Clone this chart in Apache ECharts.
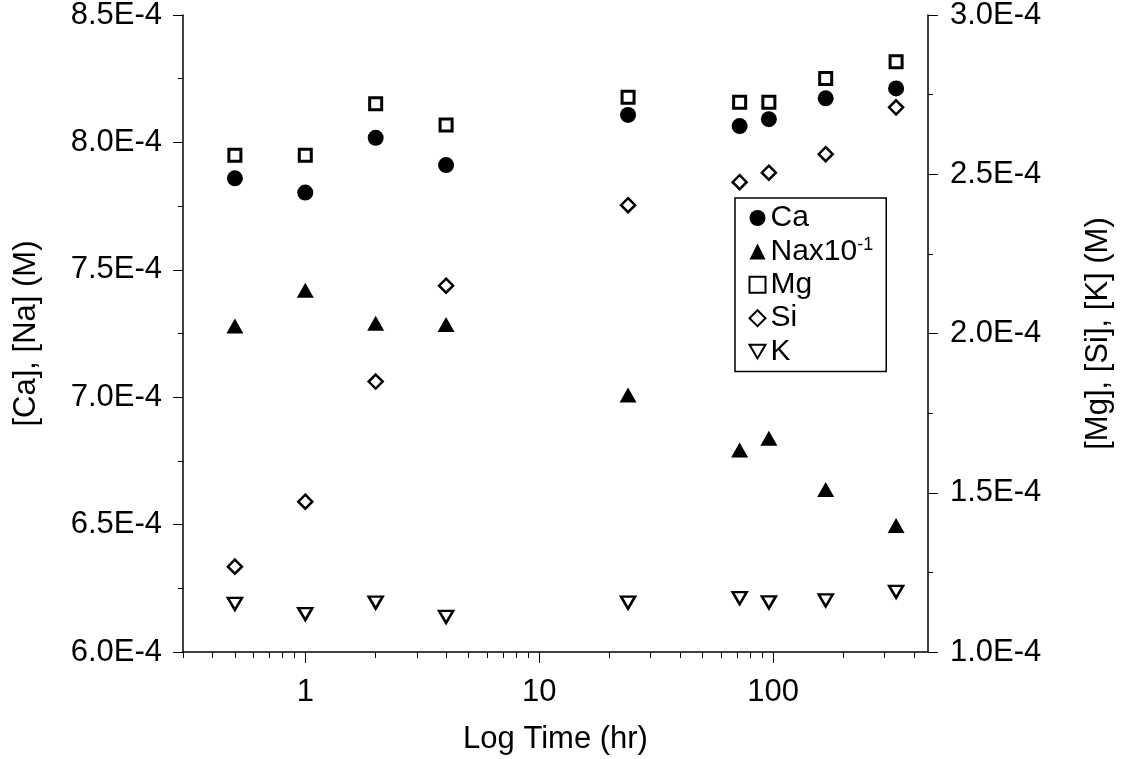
<!DOCTYPE html>
<html>
<head>
<meta charset="utf-8">
<script src="https://cdn.jsdelivr.net/npm/echarts@6/dist/echarts.min.js"></script>
<style>
html,body{margin:0;padding:0;background:#fff;}
#chart{width:1123px;height:759px;}
</style>
</head>
<body>
<div id="chart"></div>
<script>
// ---- data ----
const times = [0.5, 1, 2, 4, 24, 72, 96, 168, 336];            // hr
const caValues = [7.859e-4, 7.803e-4, 8.018e-4, 7.911e-4, 8.108e-4, 8.064e-4, 8.091e-4, 8.173e-4, 8.212e-4];
const naValues = [7.279e-4, 7.420e-4, 7.290e-4, 7.285e-4, 7.009e-4, 6.793e-4, 6.839e-4, 6.638e-4, 6.496e-4]; // Na x 10^-1
const mgValues = [2.560e-4, 2.560e-4, 2.721e-4, 2.655e-4, 2.742e-4, 2.726e-4, 2.726e-4, 2.801e-4, 2.853e-4];
const siValues = [1.268e-4, 1.472e-4, 1.849e-4, 2.150e-4, 2.403e-4, 2.475e-4, 2.505e-4, 2.563e-4, 2.710e-4];
const kValues  = [1.151e-4, 1.119e-4, 1.155e-4, 1.110e-4, 1.155e-4, 1.169e-4, 1.156e-4, 1.162e-4, 1.189e-4];
const seriesNames = ['Ca', 'Na', 'Mg', 'Si', 'K'];
const xMajorTicks = [1, 10, 100];
const xMinorTicks = [0.3,0.4,0.5,0.6,0.7,0.8,0.9,2,3,4,5,6,7,8,9,20,30,40,50,60,70,80,90,200,300,400];
const xTitle = 'Log Time (hr)';
const yLeftTitle = '[Ca], [Na] (M)';
const yRightTitle = '[Mg], [Si], [K] (M)';

const FONT = 'Liberation Sans, Arial, Helvetica, sans-serif';
const pair = v => times.map((t, i) => [t, v[i]]);
const fmtE = v => (v * 1e4).toFixed(1) + 'E-4';

const chart = echarts.init(document.getElementById('chart'), null, {renderer: 'canvas'});
const axisLine = {show: true, lineStyle: {color: '#000', width: 1.5}};
const tickStyle = {color: '#000', width: 1};
const invTriangle = 'path://M0,0 L20,0 L10,17 Z';

const option = {
  backgroundColor: '#fff',
  animation: false,
  grid: {left: 183, right: 195, top: 15, bottom: 107, containLabel: false, outerBoundsMode: 'none'},
  xAxis: [
    {
      type: 'log', logBase: 10, min: 0.3, max: 460, position: 'bottom',
      name: xTitle, nameLocation: 'middle', nameGap: 72,
      nameTextStyle: {fontSize: 31, fontFamily: FONT, color: '#000'},
      axisLine: axisLine,
      axisTick: {show: true, length: 11, lineStyle: tickStyle, customValues: xMajorTicks},
      axisLabel: {fontSize: 31, fontFamily: FONT, color: '#000', margin: 25, customValues: xMajorTicks,
                  formatter: v => String(v)},
      splitLine: {show: false}, minorTick: {show: false}
    },
    {
      type: 'log', logBase: 10, min: 0.3, max: 460, position: 'bottom', offset: 0,
      axisLine: {show: false},
      axisTick: {show: true, length: 6, lineStyle: tickStyle, customValues: xMinorTicks},
      axisLabel: {show: false},
      splitLine: {show: false}
    }
  ],
  yAxis: [
    {
      type: 'value', position: 'left', min: 6.0e-4, max: 8.5e-4, interval: 0.5e-4,
      name: yLeftTitle, nameLocation: 'middle', nameRotate: 90, nameGap: 141,
      nameTextStyle: {fontSize: 31, fontFamily: FONT, color: '#000'},
      axisLine: axisLine,
      axisTick: {show: true, length: 10, lineStyle: tickStyle},
      minorTick: {show: true, splitNumber: 2, length: 5, lineStyle: tickStyle},
      axisLabel: {fontSize: 31, fontFamily: FONT, color: '#000', margin: 21, formatter: fmtE},
      splitLine: {show: false}, minorSplitLine: {show: false}
    },
    {
      type: 'value', position: 'right', min: 1.0e-4, max: 3.0e-4, interval: 0.5e-4,
      name: yRightTitle, nameLocation: 'middle', nameRotate: 90, nameGap: 155,
      nameTextStyle: {fontSize: 31, fontFamily: FONT, color: '#000'},
      axisLine: axisLine,
      axisTick: {show: true, length: 10, lineStyle: tickStyle},
      minorTick: {show: true, splitNumber: 2, length: 5, lineStyle: tickStyle},
      axisLabel: {fontSize: 31, fontFamily: FONT, color: '#000', margin: 22, formatter: fmtE},
      splitLine: {show: false}, minorSplitLine: {show: false}
    }
  ],
  legend: {
    orient: 'vertical', left: 735, top: 198,
    data: [
      {name: 'Ca'}, {name: 'Na'}, {name: 'Mg'}, {name: 'Si'},
      {name: 'K', icon: invTriangle}
    ],
    itemWidth: 16, itemHeight: 16, itemGap: 3.4, itemTextGap: 15,
    padding: [5, 13, 5, 13.5],
    borderColor: '#000', borderWidth: 1.5, backgroundColor: '#fff',
    formatter: n => n === 'Na' ? 'Nax10{sup|-1}' : n,
    textStyle: {fontSize: 30, fontFamily: FONT, color: '#000', lineHeight: 30,
      rich: {sup: {fontSize: 18, fontFamily: FONT, color: '#000', lineHeight: 14, verticalAlign: 'top'}}}
  },
  series: [
    {name: 'Ca', type: 'scatter', xAxisIndex: 0, yAxisIndex: 0, data: pair(caValues),
     symbol: 'circle', symbolSize: 16, itemStyle: {color: '#000', opacity: 1}},
    {name: 'Na', type: 'scatter', xAxisIndex: 0, yAxisIndex: 0, data: pair(naValues),
     symbol: 'triangle', symbolSize: [17, 15], itemStyle: {color: '#000', opacity: 1}},
    {name: 'Mg', type: 'scatter', xAxisIndex: 0, yAxisIndex: 1, data: pair(mgValues),
     symbol: 'rect', symbolSize: 12, itemStyle: {color: '#fff', borderColor: '#000', borderWidth: 3, opacity: 1}},
    {name: 'Si', type: 'scatter', xAxisIndex: 0, yAxisIndex: 1, data: pair(siValues),
     symbol: 'diamond', symbolSize: 14, itemStyle: {color: '#fff', borderColor: '#000', borderWidth: 2.5, opacity: 1}},
    {name: 'K', type: 'scatter', xAxisIndex: 0, yAxisIndex: 1, data: pair(kValues),
     symbol: 'triangle', symbolRotate: 180, symbolSize: [14, 12],
     itemStyle: {color: '#fff', borderColor: '#000', borderWidth: 2.5, opacity: 1}}
  ]
};
chart.setOption(option);
</script>
</body>
</html>
